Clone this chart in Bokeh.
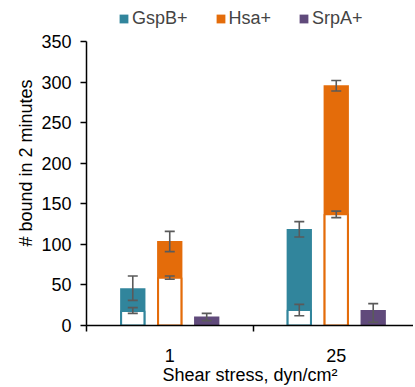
from bokeh.plotting import figure
from bokeh.models import ColumnDataSource, Whisker, FixedTicker, Range1d, Legend, LegendItem, TeeHead
from bokeh.embed import file_html
from bokeh.resources import INLINE

# ---- data ----
categories = ["1", "25"]
series_names = ["GspB+", "Hsa+", "SrpA+"]
gspb_total = [46, 119]
gspb_total_lo = [31, 109]
gspb_total_hi = [61, 128]
gspb_white = [18, 19]
gspb_white_lo = [15, 12]
gspb_white_hi = [22, 26]
hsa_total = [104, 296]
hsa_total_lo = [91, 289]
hsa_total_hi = [116, 302]
hsa_white = [59, 137]
hsa_white_lo = [57, 133]
hsa_white_hi = [61, 141]
srpa_total = [11, 19]
srpa_total_lo = [6, 4]
srpa_total_hi = [15, 27]
y_ticks = [0, 50, 100, 150, 200, 250, 300, 350]

colors = ["#31859C", "#E46C0A", "#604A7B"]
FONT = "Liberation Sans"
FS = "18px"
ERR = "#5A5A5A"

xc = [i + 1 for i in range(len(categories))]
off = 0.222
bw = 0.152

W, H = 413, 387
L, B = 86, H - 325
PXU = 284 / 350.0
p = figure(width=W, height=H, output_backend="svg", toolbar_location=None,
           x_range=Range1d(0.5, 0.5 + (W - L) / 166.5),
           y_range=Range1d(0, 350 + 325 / PXU - 350),
           min_border_left=L, min_border_right=0, min_border_top=0, min_border_bottom=B)
p.outline_line_color = None
p.xgrid.grid_line_color = None
p.ygrid.grid_line_color = None
p.background_fill_color = "white"

totals = [gspb_total, hsa_total, srpa_total]
tl = [gspb_total_lo, hsa_total_lo, srpa_total_lo]
th = [gspb_total_hi, hsa_total_hi, srpa_total_hi]
whites = [gspb_white, hsa_white, None]
wl = [gspb_white_lo, hsa_white_lo, None]
wh = [gspb_white_hi, hsa_white_hi, None]

def whisk(src):
    return Whisker(source=src, base="x", lower="lo", upper="hi",
                   line_color=ERR, line_width=1.6, level="overlay",
                   upper_head=TeeHead(size=10, line_color=ERR, line_width=1.6),
                   lower_head=TeeHead(size=10, line_color=ERR, line_width=1.6))

items = []
for k in range(3):
    xs = [x + (k - 1) * off for x in xc]
    src = ColumnDataSource(dict(x=xs, top=totals[k], lo=tl[k], hi=th[k]))
    r = p.vbar(x="x", top="top", width=bw, source=src, fill_color=colors[k], line_color=None)
    items.append(LegendItem(label=series_names[k], renderers=[r]))
    if whites[k] is not None:
        wsrc = ColumnDataSource(dict(x=xs, top=whites[k], lo=wl[k], hi=wh[k]))
        p.vbar(x="x", top="top", width=bw - 0.012, source=wsrc, fill_color="white",
               line_color=colors[k], line_width=2)
        p.add_layout(whisk(wsrc))
    p.add_layout(whisk(src))

# axes
p.xaxis.ticker = FixedTicker(ticks=xc, minor_ticks=[x - 0.5 for x in xc])
p.xaxis.major_label_overrides = {x: c for x, c in zip(xc, categories)}
p.xaxis.major_tick_out = 0
p.xaxis.major_tick_in = 0
p.xaxis.minor_tick_out = 6
p.xaxis.minor_tick_in = 0
p.xaxis.minor_tick_line_color = "black"
p.xaxis.minor_tick_line_width = 1.5
p.xaxis.axis_line_width = 1.5
p.xaxis.major_label_standoff = 17
p.xaxis.axis_label = "Shear stress, dyn/cm\u00b2"
p.xaxis.axis_label_standoff = 0

p.yaxis.ticker = FixedTicker(ticks=y_ticks)
p.yaxis.bounds = (0, 350)
p.yaxis.major_tick_out = 6
p.yaxis.major_tick_in = 0
p.yaxis.minor_tick_line_color = None
p.yaxis.axis_line_width = 1.5
p.yaxis.major_tick_line_width = 1.5
p.yaxis.major_label_standoff = 9
p.yaxis.axis_label = "# bound in 2 minutes"
p.yaxis.axis_label_standoff = 2

for ax in (p.xaxis, p.yaxis):
    ax.major_label_text_font = FONT
    ax.major_label_text_font_size = FS
    ax.major_label_text_color = "black"
    ax.axis_label_text_font = FONT
    ax.axis_label_text_font_size = FS
    ax.axis_label_text_font_style = "normal"
    ax.axis_label_text_color = "black"
    ax.axis_line_color = "black"
    ax.major_tick_line_color = "black"

legend = Legend(items=items, orientation="horizontal", location=(32, 296),
                label_text_font=FONT, label_text_font_size=FS,
                glyph_width=11, glyph_height=11, label_standoff=3, spacing=27,
                padding=0, margin=0, border_line_color=None, background_fill_alpha=0)
p.add_layout(legend, "center")

open("out.html", "w").write(file_html(p, INLINE))
